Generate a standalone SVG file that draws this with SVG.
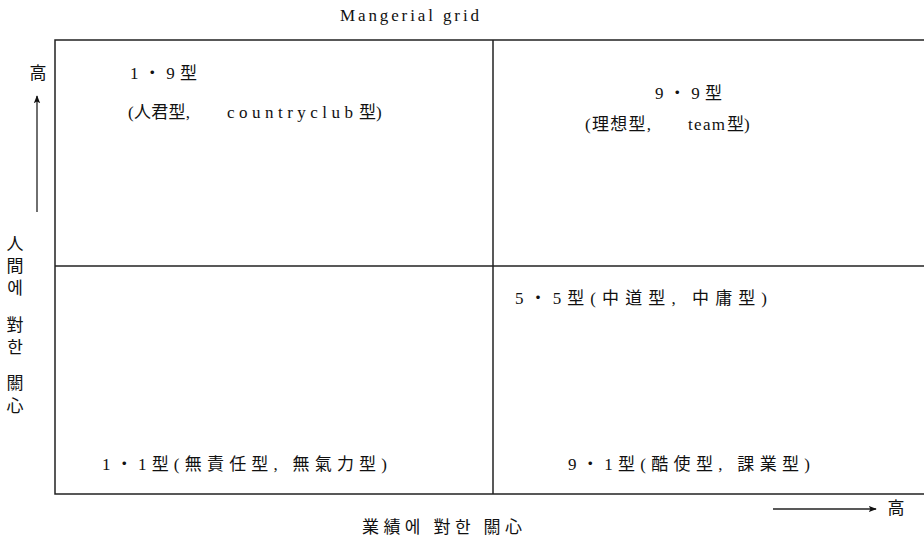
<svg xmlns="http://www.w3.org/2000/svg" width="924" height="543" viewBox="0 0 924 543">
<defs>
<style>
.t{font-family:"Liberation Serif","Noto Sans CJK KR",serif;font-size:17px;fill:#111}
.ln{stroke:#222;stroke-width:1.5;fill:none}
.ax{stroke:#222;stroke-width:1.3;fill:none}
</style>
<marker id="ah" viewBox="0 0 10 10" refX="9" refY="5" markerWidth="8" markerHeight="8" orient="auto" markerUnits="userSpaceOnUse">
<path d="M0,1 L10,5 L0,9 L2,5 Z" fill="#111"/>
</marker>
</defs>
<rect width="924" height="543" fill="#fff"/>
<text class="t" x="340" y="21" textLength="139" lengthAdjust="spacing" font-size="15">Mangerial  grid</text>
<g id="grid">
<path class="ln" d="M924,40 H55 V494 H924"/>
<path class="ln" d="M493,40 V494"/>
<path class="ln" d="M55,266 H924"/>
</g>
<g id="connectors">
<path class="ax" d="M37,212 V96" marker-end="url(#ah)"/>
<path class="ax" d="M773,509 H876" marker-end="url(#ah)"/>
</g>
<g id="q19">
<text class="t" x="130" y="79" textLength="67" lengthAdjust="spacing">1・9型</text>
<text class="t" y="118"><tspan x="128" textLength="62" lengthAdjust="spacing">(人君型,</tspan><tspan x="227" textLength="126" lengthAdjust="spacing">countryclub</tspan><tspan x="359">型)</tspan></text>
</g>
<g id="q99">
<text class="t" x="655" y="99" textLength="67" lengthAdjust="spacing">9・9型</text>
<text class="t" y="130"><tspan x="585" textLength="66" lengthAdjust="spacing">(理想型,</tspan><tspan x="688" textLength="37" lengthAdjust="spacing">team</tspan><tspan x="727">型)</tspan></text>
</g>
<g id="q55">
<text class="t" x="515" y="304" textLength="252" lengthAdjust="spacing">5・5型(中道型, 中庸型)</text>
</g>
<g id="q11">
<text class="t" x="102" y="470" textLength="285" lengthAdjust="spacing">1・1型(無責任型, 無氣力型)</text>
</g>
<g id="q91">
<text class="t" x="568" y="470" textLength="242" lengthAdjust="spacing">9・1型(酷使型, 課業型)</text>
</g>
<g id="yaxis">
<text class="t" x="38" y="79" text-anchor="middle">高</text>
<text class="t" x="15" y="250" text-anchor="middle">人</text>
<text class="t" x="15" y="272" text-anchor="middle">間</text>
<text class="t" x="15" y="294" text-anchor="middle">에</text>
<text class="t" x="15" y="331" text-anchor="middle">對</text>
<text class="t" x="15" y="353" text-anchor="middle">한</text>
<text class="t" x="15" y="389" text-anchor="middle">關</text>
<text class="t" x="15" y="412" text-anchor="middle">心</text>
</g>
<g id="xaxis">
<text class="t" x="362" y="533" textLength="160" lengthAdjust="spacing">業績에 對한 關心</text>
<text class="t" x="896" y="514" text-anchor="middle">高</text>
</g>
</svg>
